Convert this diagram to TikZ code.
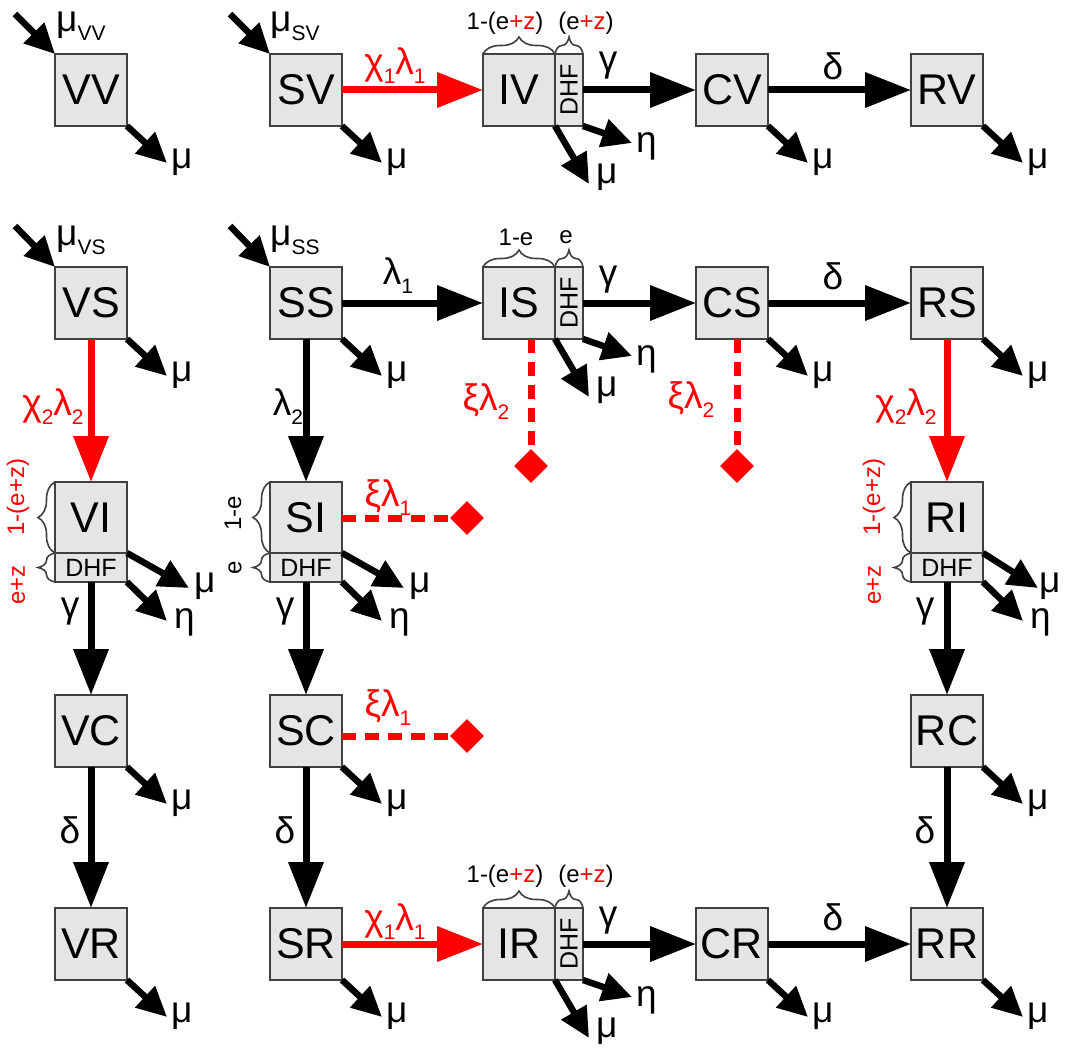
\documentclass[tikz,border=0pt]{standalone}
\usepackage{fontspec}
\setmainfont{Liberation Sans}
\usetikzlibrary{arrows.meta,shapes.geometric,decorations.pathreplacing,calc}
\newcommand\sbs[1]{\raisebox{-9pt}{\fontsize{21}{21}\selectfont #1}}
\begin{document}
\begin{tikzpicture}[x=1pt,y=-1pt,
 box/.style={draw=black!75,fill=gray!20,line width=1.6pt,minimum width=72pt,minimum height=72pt,inner sep=0pt,outer sep=0pt,font=\fontsize{43}{43}\selectfont},
 topbox/.style={box,minimum height=71pt},
 dhfv/.style={draw=black!75,fill=gray!20,line width=1.6pt,minimum width=28pt,minimum height=72pt,inner sep=0pt,outer sep=0pt,font=\fontsize{25}{25}\selectfont},
 dhfh/.style={draw=black!75,fill=gray!20,line width=1.6pt,minimum width=72pt,minimum height=29pt,inner sep=0pt,outer sep=0pt,font=\fontsize{25}{25}\selectfont},
 arr/.style={line width=7pt,-{Triangle[length=46pt,width=34pt]}},
 redarr/.style={arr,red},
 darr/.style={line width=6.5pt,-{Triangle[length=30pt,width=28pt]}},
 glab/.style={font=\fontsize{37}{37}\selectfont,inner sep=0pt},
 rlab/.style={glab,text=red},
 blab/.style={font=\fontsize{24}{24}\selectfont,inner sep=0pt},
 bracedec/.style={draw=black!75,line width=1.6pt,decorate,decoration={brace,amplitude=17pt}},
 dashline/.style={red,line width=7pt,dash pattern=on 14pt off 9pt},
 dmd/.style={diamond,fill=red,minimum width=34pt,minimum height=34pt,inner sep=0pt}
]
\useasboundingbox (0,0) rectangle (1069,1057);

% ---------- boxes ----------
\node[box] (VV) at (91,90) {VV};
\node[box] (SV) at (306,90) {SV};
\node[box] (IV) at (519,90) {IV};
\node[dhfv,anchor=west] (IV-d) at (IV.east) {\rotatebox{90}{DHF}};
\node[box] (CV) at (732,90) {CV};
\node[box] (RV) at (947,90) {RV};

\node[box] (VS) at (91,303) {VS};
\node[box] (SS) at (306,303) {SS};
\node[box] (IS) at (519,303) {IS};
\node[dhfv,anchor=west] (IS-d) at (IS.east) {\rotatebox{90}{DHF}};
\node[box] (CS) at (732,303) {CS};
\node[box] (RS) at (947,303) {RS};

\node[topbox] (VI) at (91,517.5) {VI};
\node[dhfh,anchor=north] (VI-d) at (VI.south) {DHF};
\node[topbox] (SI) at (306,517.5) {SI};
\node[dhfh,anchor=north] (SI-d) at (SI.south) {DHF};
\node[topbox] (RI) at (947,517.5) {RI};
\node[dhfh,anchor=north] (RI-d) at (RI.south) {DHF};

\node[box] (VC) at (91,731) {VC};
\node[box] (SC) at (306,731) {SC};
\node[box] (RC) at (947,731) {RC};

\node[box] (VR) at (91,944) {VR};
\node[box] (SR) at (306,944) {SR};
\node[box] (IR) at (519,944) {IR};
\node[dhfv,anchor=west] (IR-d) at (IR.east) {\rotatebox{90}{DHF}};
\node[box] (CR) at (732,944) {CR};
\node[box] (RR) at (947,944) {RR};

% ---------- horizontal arrows ----------
\draw[redarr] (SV.east) -- (IV.west);
\draw[arr] (IV-d.east) -- (CV.west);
\draw[arr] (CV.east) -- (RV.west);
\draw[arr] (SS.east) -- (IS.west);
\draw[arr] (IS-d.east) -- (CS.west);
\draw[arr] (CS.east) -- (RS.west);
\draw[redarr] (SR.east) -- (IR.west);
\draw[arr] (IR-d.east) -- (CR.west);
\draw[arr] (CR.east) -- (RR.west);

% ---------- vertical arrows ----------
\draw[redarr] (VS.south) -- (VI.north);
\draw[arr] (VI-d.south) -- (VC.north);
\draw[arr] (VC.south) -- (VR.north);
\draw[arr] (SS.south) -- (SI.north);
\draw[arr] (SI-d.south) -- (SC.north);
\draw[arr] (SC.south) -- (SR.north);
\draw[redarr] (RS.south) -- (RI.north);
\draw[arr] (RI-d.south) -- (RC.north);
\draw[arr] (RC.south) -- (RR.north);

% ---------- arrow labels ----------
\node[rlab] (lSVIV) at (395,66) {χ\sbs{1}λ\sbs{1}};
\node[rlab] (lSRIR) at (395,922) {χ\sbs{1}λ\sbs{1}};
\node[glab] (lIVCV) at (608,66) {γ};
\node[glab] (lISCS) at (608,280) {γ};
\node[glab] (lIRCR) at (608,921) {γ};
\node[glab] (lCVRV) at (833,66) {δ};
\node[glab] (lCSRS) at (833,276) {δ};
\node[glab] (lCRRR) at (833,917) {δ};
\node[glab] (lSSIS) at (398,276) {λ\sbs{1}};
\node[rlab] (lVSVI) at (53,407) {χ\sbs{2}λ\sbs{2}};
\node[rlab] (lRSRI) at (906,407) {χ\sbs{2}λ\sbs{2}};
\node[glab] (lSSSI) at (288,407) {λ\sbs{2}};
\node[glab] (lVIVC) at (70,612) {γ};
\node[glab] (lSISC) at (285,612) {γ};
\node[glab] (lRIRC) at (925,612) {γ};
\node[glab] (lVCVR) at (70,830) {δ};
\node[glab] (lSCSR) at (285,830) {δ};
\node[glab] (lRCRR) at (925,830) {δ};

% ---------- inflows ----------
\coordinate (VV-in) at (15,14);
\draw[darr] (VV-in) -- (VV.north west);
\node[glab,anchor=base west] (VV-inl) at (56,32) {μ\sbs{VV}};
\coordinate (SV-in) at (230,14);
\draw[darr] (SV-in) -- (SV.north west);
\node[glab,anchor=base west] (SV-inl) at (270,32) {μ\sbs{SV}};
\coordinate (VS-in) at (15,226);
\draw[darr] (VS-in) -- (VS.north west);
\node[glab,anchor=base west] (VS-inl) at (56,245) {μ\sbs{VS}};
\coordinate (SS-in) at (230,226);
\draw[darr] (SS-in) -- (SS.north west);
\node[glab,anchor=base west] (SS-inl) at (270,245) {μ\sbs{SS}};

% ---------- single outflows ----------
\foreach \n in {VV,SV,CV,RV,VS,SS,CS,RS,VC,SC,RC,VR,SR,CR,RR}{
  \coordinate (\n-o) at ($(\n.south east)+(40,37)$);
  \draw[darr] (\n.south east) -- (\n-o);
  \node[glab,anchor=base west] (\n-ol) at ($(\n-o)+(4,5)$) {μ};
}

% ---------- split outflows (DHF on right) ----------
\foreach \n in {IV,IS,IR}{
  \coordinate (\n-mu) at ($(\n.south east)+(34,58)$);
  \draw[darr] (\n.south east) -- (\n-mu);
  \node[glab,anchor=base west] (\n-mul) at ($(\n-mu)+(7,-1)$) {μ};
  \coordinate (\n-eta) at ($(\n-d.south east)+(49,17)$);
  \draw[darr] (\n-d.south east) -- (\n-eta);
  \node[glab,anchor=base west] (\n-etal) at ($(\n-eta)+(4,9)$) {η};
}

% ---------- split outflows (DHF below) ----------
\foreach \n/\dx/\lx in {VI/62/5,SI/62/5,RI/55/1}{
  \coordinate (\n-mu) at ($(\n.south east)+(\dx,35)$);
  \draw[darr] (\n.south east) -- (\n-mu);
  \node[glab,anchor=base west] (\n-mul) at ($(\n-mu)+(\lx,4)$) {μ};
  \coordinate (\n-eta) at ($(\n-d.south east)+(40,39)$);
  \draw[darr] (\n-d.south east) -- (\n-eta);
  \node[glab,anchor=base west] (\n-etal) at ($(\n-eta)+(7,7)$) {η};
}

% ---------- braces ----------
\foreach \n in {IV,IS,IR}{
  \draw[bracedec] (\n.north west) -- (\n.north east);
  \draw[bracedec] (\n-d.north west) -- (\n-d.north east);
}
\node[blab] (IVb1) at (505,23) {1-(e\textcolor{red}{+z})};
\node[blab] (IVb2) at (586,23) {(e\textcolor{red}{+z})};
\node[blab] (IRb1) at (505,876) {1-(e\textcolor{red}{+z})};
\node[blab] (IRb2) at (586,876) {(e\textcolor{red}{+z})};
\node[blab] (ISb1) at (516,237) {1-e};
\node[blab] (ISb2) at (566,237) {e};

\foreach \n in {VI,SI,RI}{
  \draw[bracedec] (\n.south west) -- (\n.north west);
  \draw[bracedec] (\n-d.south west) -- (\n-d.north west);
}
\node[blab,rotate=90,text=red] (VIb1) at (18,497) {1-(e+z)};
\node[blab,rotate=90,text=red] (VIb2) at (18,585) {e+z};
\node[blab,rotate=90] (SIb1) at (233,513) {1-e};
\node[blab,rotate=90] (SIb2) at (235,568) {e};
\node[blab,rotate=90,text=red] (RIb1) at (874,497) {1-(e+z)};
\node[blab,rotate=90,text=red] (RIb2) at (874,585) {e+z};

% ---------- dashed red links ----------
\node[dmd] (D1) at (531,466) {};
\node[dmd] (D2) at (737,466) {};
\node[dmd] (D3) at (467,518) {};
\node[dmd] (D4) at (467,736) {};
\draw[dashline] ($(IS.south)+(12,0)$) -- (D1.north);
\draw[dashline] ($(CS.south)+(5,0)$) -- (D2.north);
\draw[dashline] ($(SI.east)+(0,0.5)$) -- (D3.west);
\draw[dashline] ($(SC.east)+(0,5)$) -- (D4.west);
\node[rlab] (lD1) at (486,402) {ξλ\sbs{2}};
\node[rlab] (lD2) at (691,400) {ξλ\sbs{2}};
\node[rlab] (lD3) at (388,498) {ξλ\sbs{1}};
\node[rlab] (lD4) at (388,708) {ξλ\sbs{1}};
\end{tikzpicture}
\end{document}
